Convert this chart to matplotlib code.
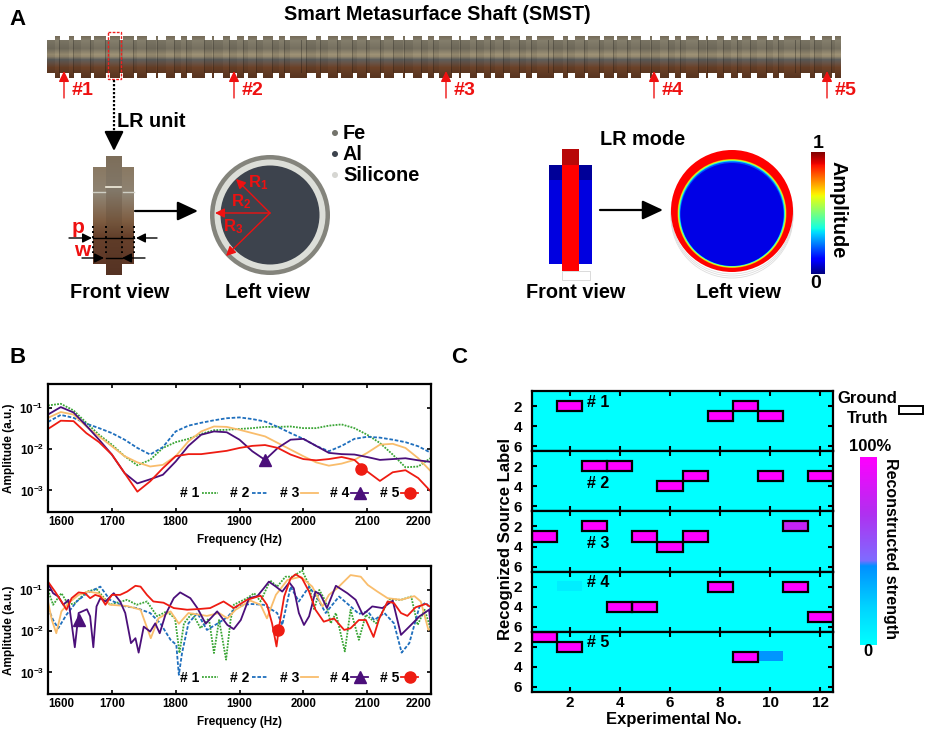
# -*- coding: utf-8 -*-
import numpy as np
import matplotlib
matplotlib.use('Agg')
import matplotlib.pyplot as plt
from matplotlib.colors import LinearSegmentedColormap
from matplotlib.lines import Line2D
from matplotlib.patches import Rectangle, Circle

plt.rcParams['font.family'] = ['Liberation Sans', 'DejaVu Sans']
plt.rcParams['font.weight'] = 'bold'
plt.rcParams['axes.labelweight'] = 'bold'
plt.rcParams['mathtext.fontset'] = 'custom'
plt.rcParams['mathtext.rm'] = 'Liberation Sans:bold'
plt.rcParams['mathtext.bf'] = 'Liberation Sans:bold'
plt.rcParams['mathtext.default'] = 'bf'

W, H = 927, 729

# ---------- panel B, top: log10 amplitude every 20 Hz
freq_top = list(range(1600, 2201, 20))
top1 = [-0.94,-0.90,-1.06,-1.36,-1.65,-1.89,-2.17,-2.39,-2.26,-1.97,-1.83,-1.75,-1.63,-1.54,-1.53,-1.51,-1.49,-1.46,-1.46,-1.45,-1.49,-1.49,-1.43,-1.40,-1.49,-1.65,-1.85,-2.13,-2.44,-2.42,-2.21]
top2 = [-1.34,-1.17,-1.24,-1.38,-1.49,-1.61,-1.77,-1.97,-2.13,-1.95,-1.57,-1.43,-1.36,-1.30,-1.25,-1.23,-1.27,-1.33,-1.46,-1.61,-1.75,-1.92,-2.05,-1.92,-1.75,-1.70,-1.72,-1.77,-1.83,-1.93,-2.09]
top3 = [-1.24,-1.10,-1.16,-1.45,-1.69,-1.93,-2.17,-2.32,-2.42,-2.38,-2.17,-1.81,-1.57,-1.45,-1.46,-1.53,-1.61,-1.69,-1.85,-2.01,-2.17,-2.32,-2.40,-2.35,-2.26,-2.09,-1.89,-1.87,-1.97,-2.22,-2.54]
top4 = [-1.16,-0.98,-1.11,-1.43,-1.77,-2.13,-2.58,-2.83,-2.73,-2.62,-2.30,-1.92,-1.65,-1.57,-1.59,-1.77,-2.05,-2.26,-1.97,-1.77,-1.75,-1.92,-2.09,-2.12,-2.13,-2.19,-2.26,-2.24,-2.22,-2.27,-2.31]
top5 = [-1.51,-1.31,-1.32,-1.61,-1.83,-2.13,-2.58,-3.03,-2.78,-2.46,-2.17,-2.12,-2.12,-2.08,-2.04,-1.97,-1.92,-1.90,-1.97,-2.13,-2.24,-2.27,-2.24,-2.19,-2.26,-2.54,-2.77,-2.56,-2.51,-2.70,-3.03]
top_mark4 = (1940, -2.26)
top_mark5 = (2090, -2.48)

# ---------- panel B, bottom
bf1 = [1600,1608,1621,1632,1642,1661,1676,1697,1724,1739,1755,1771,1786,1799,1806,1813,1826,1839,1852,1860,1868,1879,1886,1891,1912,1923,1933,1948,1959,1972,1983,1998,2009,2017,2025,2035,2043,2051,2065,2074,2087,2098,2114,2135,2153,2169,2179,2190,2200]
bl1 = [-1.00,-1.36,-1.08,-1.36,-1.32,-1.04,-0.98,-1.36,-1.24,-1.36,-1.28,-1.64,-1.52,-1.69,-2.53,-1.81,-1.56,-1.93,-1.69,-2.53,-1.73,-2.69,-1.73,-1.36,-1.20,-1.08,-1.28,-0.77,-0.92,-0.68,-0.68,-0.53,-0.88,-1.48,-1.00,-1.28,-1.81,-1.56,-2.49,-1.48,-2.21,-1.60,-1.81,-1.23,-1.24,-1.16,-1.85,-1.48,-1.97]
bf2 = [1600,1608,1616,1629,1645,1661,1682,1697,1718,1739,1760,1776,1792,1801,1805,1810,1820,1834,1849,1865,1881,1896,1917,1938,1959,1967,1980,1993,2009,2022,2035,2056,2074,2087,2101,2111,2127,2142,2154,2166,2182,2192,2200]
bl2 = [-1.44,-1.73,-1.93,-1.60,-1.28,-1.08,-0.92,-1.24,-1.39,-1.44,-1.56,-1.81,-2.21,-2.33,-3.06,-2.53,-1.81,-1.56,-1.97,-1.82,-1.66,-1.40,-1.34,-1.36,-1.56,-1.85,-0.92,-1.28,-0.92,-1.20,-1.56,-1.16,-1.40,-1.58,-1.52,-1.73,-1.56,-1.81,-2.52,-2.29,-1.40,-1.31,-1.48]
bf3 = [1600,1606,1613,1621,1632,1648,1663,1679,1697,1724,1745,1761,1773,1792,1805,1820,1849,1868,1881,1894,1917,1933,1943,1957,1975,1996,2014,2030,2040,2053,2074,2090,2101,2116,2132,2153,2174,2184,2196,2200]
bl3 = [-1.28,-1.73,-2.05,-1.52,-1.32,-1.12,-1.04,-1.08,-1.36,-1.39,-1.48,-2.17,-1.69,-1.52,-1.82,-1.56,-1.63,-1.56,-1.69,-1.48,-1.26,-1.36,-1.69,-1.12,-0.76,-0.68,-0.92,-1.40,-1.12,-0.96,-0.64,-0.68,-0.88,-1.04,-1.20,-1.24,-1.15,-1.28,-1.97,-1.93]
bf4 = [1600,1608,1616,1624,1632,1637,1642,1648,1661,1666,1671,1676,1682,1690,1703,1713,1721,1730,1737,1742,1750,1760,1768,1775,1784,1797,1807,1823,1834,1847,1865,1881,1891,1902,1915,1928,1938,1946,1957,1967,1978,1985,1993,2001,2009,2019,2027,2037,2051,2069,2082,2093,2108,2124,2140,2153,2166,2182,2197,2200]
bl4 = [-0.84,-1.08,-1.16,-1.36,-1.24,-1.81,-2.39,-1.56,-1.47,-1.64,-2.39,-1.40,-1.20,-1.28,-1.08,-1.28,-1.56,-2.29,-2.17,-2.52,-1.89,-2.01,-1.81,-2.05,-1.60,-1.20,-1.06,-1.20,-1.44,-1.82,-1.52,-1.85,-1.95,-1.73,-1.20,-1.15,-0.96,-0.80,-0.92,-1.04,-0.82,-0.96,-1.56,-1.85,-1.64,-1.04,-1.12,-1.44,-0.90,-1.08,-1.24,-1.60,-1.40,-1.44,-1.26,-2.09,-1.89,-1.64,-1.48,-1.97]
bf5 = [1600,1611,1621,1629,1637,1648,1658,1666,1674,1682,1690,1700,1713,1724,1737,1745,1755,1765,1781,1797,1818,1839,1854,1875,1891,1912,1933,1943,1951,1958,1962,1970,1980,1988,1998,2009,2019,2032,2048,2064,2074,2087,2098,2110,2119,2132,2142,2153,2163,2176,2192,2200]
bl5 = [-0.80,-1.04,-1.28,-1.48,-1.20,-1.06,-1.08,-1.20,-1.12,-1.16,-1.36,-1.12,-1.12,-1.04,-0.90,-0.92,-1.12,-1.28,-1.31,-1.44,-1.48,-1.46,-1.44,-1.28,-1.44,-1.24,-1.14,-1.36,-1.81,-2.37,-1.89,-1.16,-0.72,-0.62,-0.72,-1.04,-1.48,-1.77,-1.69,-1.97,-1.93,-1.73,-1.73,-2.14,-1.69,-1.28,-1.32,-1.56,-1.63,-1.42,-1.34,-1.42]
bot_mark4 = (1649, -1.72)
bot_mark5 = (1960, -1.97)

line_colors = ['#3aa535', '#1f6fbd', '#f9bd6c', '#4b0f7a', '#ee1c12']
line_styles = [(0, (1, 0.7)), (0, (2, 1)), '-', '-', '-']
line_labels = ['# 1', '# 2', '# 3', '# 4', '# 5']
freq_ticks = [1600, 1700, 1800, 1900, 2000, 2100, 2200]

# ---------- panel C: (experiment, label, strength, ground truth box)
panel1 = [(2,2,1,1),(8,3,1,1),(9,2,1,1),(10,3,1,1)]
panel2 = [(3,2,1,1),(4,2,1,1),(6,4,1,1),(7,3,1,1),(10,3,1,1),(12,3,1,1)]
panel3 = [(1,3,1,1),(3,2,1,1),(5,3,1,1),(6,4,1,1),(7,3,1,1),(11,2,0.78,1)]
panel4 = [(2,2,0.08,0),(8,2,1,1),(11,2,1,1),(4,4,1,1),(5,4,1,1),(12,5,1,1)]
panel5 = [(1,1,1,1),(2,2,1,1),(9,3,1,1),(10,3,0.4,0)]
panels = [panel1, panel2, panel3, panel4, panel5]
panel_names = ['# 1', '# 2', '# 3', '# 4', '# 5']
name_pos = [(2.7, 1.6), (2.7, 3.7), (2.7, 3.7), (2.7, 1.6), (2.7, 1.6)]

strength_cmap = LinearSegmentedColormap.from_list('strength', [
    (0.0, '#00ffff'), (0.2, '#00d4ff'), (0.42, '#0090ff'), (0.45, '#7f6cff'),
    (0.7, '#b030f0'), (1.0, '#ff00ff')])


def px_axes(x0, y0, x1, y1):
    return fig.add_axes([x0 / W, 1 - y1 / H, (x1 - x0) / W, (y1 - y0) / H])


fig = plt.figure(figsize=(W / 100, H / 100), dpi=100)

# ---------- overlay in pixel coordinates for the schematic
bg = fig.add_axes([0, 0, 1, 1])
bg.axis('off')


def txt(x, y, s, size=14.3, color='black', ha='center', rot=0):
    bg.text(x, y, s, fontsize=size, color=color, ha=ha, va='center', rotation=rot, fontweight='bold')


def arrow(x0, y0, x1, y1, color='black', lw=1.6, hl=0.9, hw=0.42):
    bg.annotate('', xy=(x1, y1), xytext=(x0, y0),
                arrowprops=dict(arrowstyle=f'-|>,head_length={hl},head_width={hw}', color=color,
                                lw=lw, shrinkA=0, shrinkB=0, mutation_scale=14))


# shaft
row_y = [36, 40, 48, 54, 56, 59, 63, 67, 77]
row_r = [118, 132, 118, 158, 150, 95, 105, 108, 88]
row_g = [108, 126, 112, 146, 138, 95, 82, 66, 52]
row_b = [ 90, 108,  96, 118, 112, 92, 68, 40, 32]
ys = np.arange(36, 78)
xs = np.arange(47, 841)
grad = np.stack([np.interp(ys, row_y, row_r), np.interp(ys, row_y, row_g), np.interp(ys, row_y, row_b)], axis=1) / 255
shaft = np.ones((len(ys), len(xs), 3))
shaft[(ys >= 40) & (ys <= 72)] = grad[(ys >= 40) & (ys <= 72)][:, None, :] * 0.92
tooth_start = [55, 69, 81, 94, 110, 123, 137, 156, 166, 181, 192, 212, 223, 237, 248, 263, 279, 290]
tooth_width = [5, 5, 10, 12, 10, 11, 10, 2, 9, 6, 13, 2, 7, 7, 9, 10, 6, 12]
for off in range(0, 800, 247):
    for s, w in zip(tooth_start, tooth_width):
        a, b = s + off - 47, s + off + w - 47
        if a >= len(xs) - 1:
            continue
        shaft[:, a:b] = grad[:, None, :]
        shaft[(ys >= 40) & (ys <= 72), max(b - 1, 0):b] *= 0.72
bg.imshow(shaft, extent=(47, 841, 78, 36), aspect='auto', interpolation='bilinear')
bg.add_patch(Rectangle((108, 32), 13, 47, fill=False, ec='#ee2020', lw=1, ls=(0, (2, 1))))

arrow_x = [64, 234, 446, 654, 827]
for i, x in enumerate(arrow_x):
    arrow(x, 98, x, 71, color='#ee1111', lw=1, hl=0.45, hw=0.22)
    txt(x + 19, 90, f'#{i + 1}', size=14, color='#ee1111')

txt(437, 14, 'Smart Metasurface Shaft (SMST)', size=14.2)
txt(18, 19, 'A', size=16)
txt(18, 357, 'B', size=16)
txt(459, 357, 'C', size=16)

bg.plot([114, 114], [80, 140], color='black', lw=1.6, ls=(0, (1, 0.8)))
arrow(114, 135, 114, 151, lw=1.6, hl=0.85, hw=0.42)
txt(117, 121, 'LR unit', ha='left')

# front view of the unit
uy = np.arange(156, 276)
u_r = np.interp(uy, [156, 190, 222, 240, 275], [125, 130, 115, 95, 85])
u_g = np.interp(uy, [156, 190, 222, 240, 275], [110, 120, 85, 60, 50])
u_b = np.interp(uy, [156, 190, 222, 240, 275], [90, 105, 60, 40, 35])
unit = np.stack([u_r, u_g, u_b], axis=1)[:, None, :] / 255
bg.imshow(unit * 1.1, extent=(93, 134, 264, 167), aspect='auto', interpolation='bilinear')
bg.imshow(unit, extent=(106, 122, 275, 156), aspect='auto', interpolation='bilinear')
bg.plot([106, 121], [187, 187], color='#f2eedd', lw=1.2)
bg.plot([93, 105], [192, 192], color='#cfcfc4', lw=1)
bg.plot([123, 134], [192, 192], color='#cfcfc4', lw=1)
for x in (93, 134, 106, 122):
    bg.plot([x, x], [226, 253], color='black', lw=1.4, ls=(0, (1, 1.6)))
arrow(69, 238, 92, 238, lw=1, hl=0.4, hw=0.2)
arrow(157, 238, 136, 238, lw=1, hl=0.4, hw=0.2)
bg.plot([93, 134], [238, 238], color='black', lw=1)
arrow(82, 258, 104, 258, lw=1, hl=0.4, hw=0.2)
arrow(145, 258, 122, 258, lw=1, hl=0.4, hw=0.2)
bg.plot([106, 122], [258, 258], color='black', lw=1)
txt(78, 227, 'p', size=15, color='#ee1111')
txt(82, 250, 'w', size=15, color='#ee1111')
arrow(135, 211, 198, 211)

# left view of the unit
for r, c in ((60, '#84847c'), (55.5, '#dcded8'), (49.5, '#3d434d')):
    bg.add_patch(Circle((270, 215), r, color=c, lw=0))
arrow(270, 213, 236, 179, color='#ee1111', lw=1, hl=0.4, hw=0.2)
arrow(270, 213, 215, 213, color='#ee1111', lw=1, hl=0.4, hw=0.2)
arrow(270, 213, 226, 256, color='#ee1111', lw=1, hl=0.4, hw=0.2)
txt(258, 183, r'R$_1$', size=12, color='#ee1111')
txt(241, 202, r'R$_2$', size=12, color='#ee1111')
txt(233, 227, r'R$_3$', size=12, color='#ee1111')

txt(120, 292, 'Front view')
txt(268, 292, 'Left view')
for y, c, s in ((133, '#74746c', 'Fe'), (154, '#3d434d', 'Al'), (175, '#d6d6d2', 'Silicone')):
    bg.add_patch(Circle((335, y), 3, color=c, lw=0))
    txt(343, y, s, ha='left')

# LR mode
txt(600, 139, 'LR mode', ha='left')
bg.add_patch(Rectangle((549, 165), 43, 99, color='#0000e0', lw=0))
bg.add_patch(Rectangle((562, 149), 17, 122, color='#ff0000', lw=0))
bg.add_patch(Rectangle((562, 149), 17, 16, color='#b80808', lw=0))
bg.add_patch(Rectangle((549, 165), 13, 15, color='#000098', lw=0))
bg.add_patch(Rectangle((579, 165), 13, 15, color='#000098', lw=0))
bg.add_patch(Rectangle((562, 271), 28, 9, fill=False, ec='#d4d4d4', lw=0.6))
arrow(600, 210, 663, 210)
for dy in (2, 4, 6):
    bg.add_patch(Circle((732, 211 + dy), 61, fill=False, ec='#dddddd', lw=0.6))
bg.add_patch(Circle((732, 211), 61, color='#ff0000', lw=0))
for r, v in ((55, 0.9), (54.5, 0.78), (54, 0.66), (53.5, 0.55), (53, 0.42), (52.5, 0.33), (52, 0.2)):
    bg.add_patch(Circle((732, 213.5), r, color=plt.cm.jet(v), lw=0))
bg.add_patch(Circle((732, 214.5), 51.5, color='#0000e6', lw=0))
txt(576, 292, 'Front view')
txt(739, 292, 'Left view')
gradient = np.linspace(1, 0, 256)[:, None]
bg.imshow(gradient, cmap='jet', extent=(811, 825, 274, 152), aspect='auto')
txt(818, 143, '1', size=14)
txt(816, 283, '0', size=14)
txt(838, 210, 'Amplitude', rot=270)

# ground truth key and strength colorbar
txt(867, 398, 'Ground', size=12)
txt(868, 418, 'Truth', size=12)
bg.add_patch(Rectangle((899, 406), 24, 8, fill=False, ec='black', lw=1.4))
txt(870, 446, '100%', size=12)
txt(868, 651, '0', size=12)
bg.imshow(gradient, cmap=strength_cmap, extent=(860, 877, 645, 457), aspect='auto')
txt(891, 548, 'Reconstructed strength', size=11.5, rot=270)

bg.set_xlim(0, W)
bg.set_ylim(H, 0)


# ---------- panel B
def freq_panel(box, curves, mark4, mark5, leg_y):
    ax = px_axes(*box)
    for (f, l), c, ls in zip(curves, line_colors, line_styles):
        ax.semilogy(f, 10.0 ** np.array(l), color=c, ls=ls, lw=1.3)
    ax.semilogy(mark4[0], 10.0 ** mark4[1], '^', color=line_colors[3], ms=8)
    ax.semilogy(mark5[0], 10.0 ** mark5[1], 'o', color=line_colors[4], ms=8)
    ax.set_xlim(1600, 2200)
    ax.set_ylim(3e-4, 0.38)
    ax.set_yticks([1e-3, 1e-2, 1e-1], [r'10$^{-3}$', r'10$^{-2}$', r'10$^{-1}$'], fontsize=8.5)
    ax.minorticks_off()
    ax.set_xticks(freq_ticks, [str(t) for t in freq_ticks], fontsize=8.3)
    labs = ax.get_xticklabels()
    labs[0].set_ha('left')
    labs[-1].set_ha('right')
    ax.tick_params(direction='in', top=True, right=True, length=3, width=1.2, pad=3)
    for s in ax.spines.values():
        s.set_linewidth(1.6)
    ax.set_xlabel('Frequency (Hz)', fontsize=8.5, labelpad=4)
    ax.set_ylabel('Amplitude (a.u.)', fontsize=8.5)
    ax.yaxis.set_label_coords(-0.085, 0.5, transform=ax.transAxes)
    handles = [Line2D([], [], color=c, ls=ls, lw=1.3) for c, ls in zip(line_colors, line_styles)]
    handles[3] = Line2D([], [], color=line_colors[3], lw=1.3, marker='^', ms=8)
    handles[4] = Line2D([], [], color=line_colors[4], lw=1.3, marker='o', ms=8)
    ax.legend(handles, line_labels, ncol=5, frameon=False, markerfirst=False, loc='lower right',
              bbox_to_anchor=(0.966, leg_y), prop={'size': 10, 'weight': 'bold'},
              handlelength=1.2, handletextpad=0.15, columnspacing=0.85, borderpad=0, borderaxespad=0)
    return ax


freq_panel((48, 384, 431, 512), [(freq_top, top1), (freq_top, top2), (freq_top, top3), (freq_top, top4), (freq_top, top5)],
           top_mark4, top_mark5, 0.09)
freq_panel((48, 566, 431, 694), [(bf1, bl1), (bf2, bl2), (bf3, bl3), (bf4, bl4), (bf5, bl5)],
           bot_mark4, bot_mark5, 0.07)

# ---------- panel C
top_y = 391
row_h = 60.2
for i, cells in enumerate(panels):
    ax = px_axes(532, top_y + i * row_h, 833, top_y + (i + 1) * row_h)
    grid = np.zeros((6, 12))
    for e, lab, v, box in cells:
        grid[lab - 1, e - 1] = v
    ax.imshow(grid, cmap=strength_cmap, vmin=0, vmax=1, extent=(0.5, 12.5, 6.5, 0.5), aspect='auto')
    for e, lab, v, box in cells:
        if box:
            ax.add_patch(Rectangle((e - 0.5, lab - 0.5), 1, 1, fill=False, ec='black', lw=1.6, clip_on=True))
    ax.set_xticks(range(2, 13, 2))
    ax.set_yticks([2, 4, 6])
    ax.tick_params(direction='in', top=True, right=True, length=3.5, width=1.5, labelsize=11)
    ax.tick_params(axis='y', pad=7)
    ax.tick_params(axis='x', pad=3)
    if i < 4:
        ax.tick_params(labelbottom=False)
    else:
        ax.set_xlabel('Experimental No.', fontsize=12)
        ax.xaxis.set_label_coords(0.47, -0.33, transform=ax.transAxes)
    if i == 2:
        ax.set_ylabel('Recognized Source Label', fontsize=12)
        ax.yaxis.set_label_coords(-0.064, 0.546, transform=ax.transAxes)
    for s in ax.spines.values():
        s.set_linewidth(1.6)
    ax.text(name_pos[i][0], name_pos[i][1], panel_names[i], fontsize=11.5, fontweight='bold', va='center')

fig.savefig('out.png', dpi=100)
